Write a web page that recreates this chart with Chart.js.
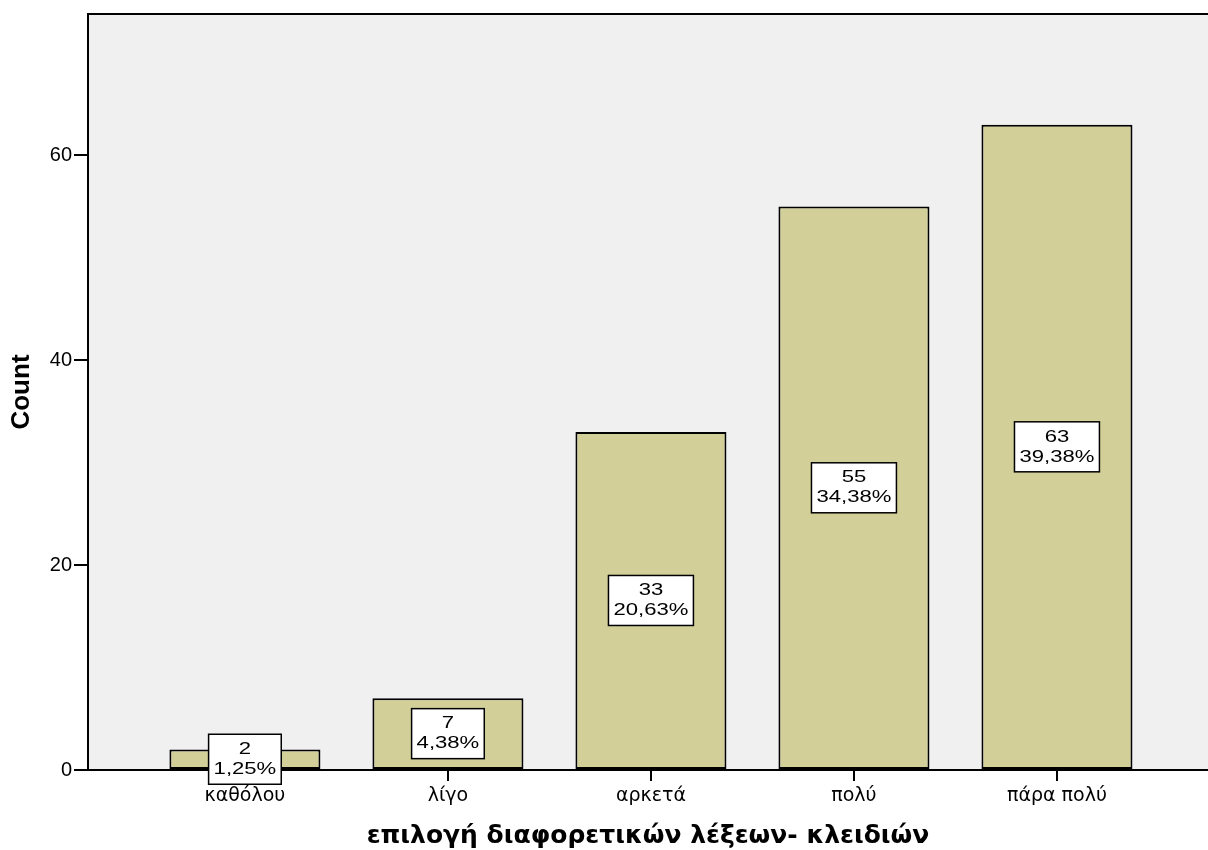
<!DOCTYPE html>
<html>
<head>
<meta charset="utf-8">
<script src="https://cdn.jsdelivr.net/npm/chart.js@4"></script>
<style>
  body { margin: 0; background: #fff; }
</style>
</head>
<body>
<canvas id="mycanvas" width="1208" height="850"></canvas>
<script>
var categories = ['καθόλου', 'λίγο', 'αρκετά', 'πολύ', 'πάρα πολύ'];
var counts = [2, 7, 33, 55, 63];
var percents = ['1,25%', '4,38%', '20,63%', '34,38%', '39,38%'];
var yTicks = [0, 20, 40, 60];

var FONT = "'Liberation Sans', Arial, sans-serif";
var WIDE = "'DejaVu Sans', sans-serif";

// grey plot background + top frame line
var plotBack = {
	id: 'plotBack',
	beforeDraw: function(chart) {
		var a = chart.chartArea, c = chart.ctx;
		c.save();
		c.fillStyle = '#f0f0f0';
		c.fillRect(a.left, a.top, a.right - a.left, a.bottom - a.top);
		c.strokeStyle = '#000';
		c.lineWidth = 2;
		c.beginPath();
		c.moveTo(a.left, a.top);
		c.lineTo(a.right, a.top);
		c.stroke();
		c.restore();
	}
};

// white boxes with count and percent in the middle of each bar
var boxLabels = {
	id: 'boxLabels',
	afterDraw: function(chart) {
		var c = chart.ctx;
		var bars = chart.getDatasetMeta(0).data;
		var sx = 1.3;
		c.save();
		c.font = '17px ' + FONT;
		c.textAlign = 'center';
		c.textBaseline = 'middle';
		bars.forEach(function(bar, i) {
			var cy = (bar.y + bar.base) / 2;
			var t1 = String(counts[i]), t2 = percents[i];
			var w = Math.max(c.measureText(t1).width, c.measureText(t2).width) * sx + 10;
			var h = 50;
			c.fillStyle = '#fff';
			c.fillRect(bar.x - w / 2, cy - h / 2, w, h);
			c.strokeStyle = '#000';
			c.lineWidth = 1.5;
			c.strokeRect(bar.x - w / 2, cy - h / 2, w, h);
			c.fillStyle = '#000';
			c.save();
			c.translate(bar.x, cy);
			c.scale(sx, 1);
			c.fillText(t1, 0, -10);
			c.fillText(t2, 0, 10);
			c.restore();
		});
		c.restore();
	}
};

var chartdata = {
	datasets: [{
		data: counts.map(function(v, i) { return { x: i, y: v }; }),
		backgroundColor: '#d3cf99',
		borderColor: '#000',
		borderWidth: 2,
		borderSkipped: false,
		categoryPercentage: 1,
		barPercentage: 0.744
	}]
};

var ctx = document.getElementById('mycanvas');

var barGraph = new Chart(ctx, {
	type: 'bar',
	data: chartdata,
	plugins: [plotBack, boxLabels],
	options: {
		responsive: false,
		animation: false,
		layout: { padding: { top: 12, left: 0, right: 0, bottom: 0 } },
		plugins: { legend: { display: false }, tooltip: { enabled: false } },
		scales: {
			x: {
				type: 'linear',
				offset: false,
				min: -0.773,
				max: 4.744,
				afterBuildTicks: function(s) {
					s.ticks = categories.map(function(c, i) { return { value: i }; });
				},
				afterFit: function(s) { s.height = 80; },
				ticks: {
					autoSkip: false,
					maxRotation: 0,
					padding: 4,
					color: '#000',
					font: { family: WIDE, size: 19 },
					callback: function(v) { return categories[v]; }
				},
				grid: { offset: false, drawOnChartArea: false, drawTicks: true, tickLength: 11, color: '#000', lineWidth: 2 },
				border: { display: true, color: '#000', width: 2 },
				title: {
					display: true,
					text: 'επιλογή διαφορετικών λέξεων- κλειδιών',
					color: '#000',
					font: { family: WIDE, size: 25, weight: 'bold' },
					padding: { top: 0, bottom: -1 }
				}
			},
			y: {
				min: 0,
				max: 73.8,
				afterBuildTicks: function(s) {
					s.ticks = yTicks.map(function(v) { return { value: v }; });
				},
				afterFit: function(s) { s.width = 88; },
				ticks: {
					padding: 2,
					color: '#000',
					font: { family: FONT, size: 20 }
				},
				grid: { drawOnChartArea: false, drawTicks: true, tickLength: 14, color: '#000', lineWidth: 2 },
				border: { display: true, color: '#000', width: 2 },
				title: {
					display: true,
					text: 'Count',
					color: '#000',
					font: { family: FONT, size: 26, weight: 'bold' },
					padding: { top: 6, bottom: 0 }
				}
			}
		}
	}
});
</script>
</body>
</html>
